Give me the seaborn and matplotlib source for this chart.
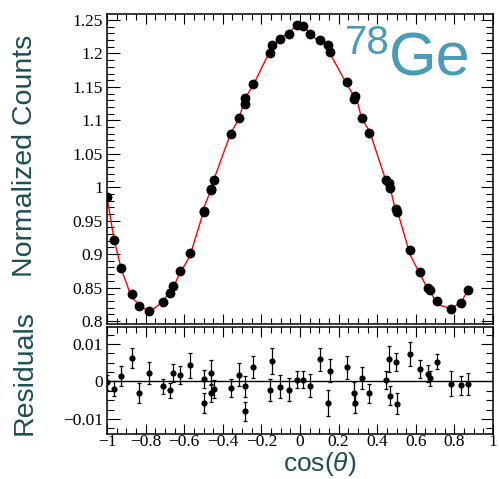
import numpy as np
import pandas as pd
import matplotlib
matplotlib.use("Agg")
import matplotlib.pyplot as plt
from matplotlib.ticker import MultipleLocator, FuncFormatter
import seaborn as sns

# Angular correlation of 78Ge: normalized counts vs cos(theta)
cos_theta = [-1.000, -0.964, -0.926, -0.872, -0.836, -0.782, -0.710, -0.675, -0.658,
             -0.621, -0.571, -0.499, -0.499, -0.462, -0.462, -0.445, -0.359, -0.317,
             -0.283, -0.283, -0.245, -0.157, -0.146, -0.105, -0.055, -0.017, 0.018,
             0.054, 0.106, 0.146, 0.158, 0.244, 0.282, 0.286, 0.319, 0.360, 0.445,
             0.462, 0.464, 0.498, 0.500, 0.571, 0.623, 0.661, 0.674, 0.711, 0.782,
             0.835, 0.873]

norm_counts = [0.985, 0.921, 0.879, 0.841, 0.823, 0.815, 0.828, 0.842, 0.852,
               0.874, 0.901, 0.965, 0.963, 0.998, 0.996, 1.0105, 1.079, 1.104,
               1.133, 1.125, 1.155, 1.2006, 1.212, 1.221, 1.2295, 1.243, 1.2405,
               1.2295, 1.220, 1.2126, 1.2016, 1.157, 1.132, 1.1357, 1.1038, 1.0808, 1.0105,
               1.007, 0.9995, 0.967, 0.963, 0.906, 0.873, 0.850, 0.846, 0.830, 0.818,
               0.827, 0.847]

residuals = [-0.0002, -0.0020, 0.0015, 0.0062, -0.0030, 0.0022, -0.0013, -0.0023, 0.0023,
             0.0018, 0.0043, 0.0007, -0.0057, 0.0023, -0.0032, -0.0021, -0.0017, 0.0018,
             -0.0013, -0.0080, 0.0038, -0.0023, 0.0055, -0.0014, -0.0022, 0.0005, 0.0005,
             -0.0011, 0.0059, -0.0057, 0.0029, 0.0038, -0.0032, -0.0057, 0.0009, -0.0032, 0.0005,
             0.0060, -0.0038, 0.0053, -0.0059, 0.0073, 0.0033, 0.0021, 0.0009, 0.0053, -0.0006,
             -0.0010, -0.0006]

residual_err = [0.0020, 0.0020, 0.0027, 0.0027, 0.0027, 0.0030, 0.0020, 0.0020, 0.0024,
                0.0024, 0.0034, 0.0024, 0.0027, 0.0033, 0.0024, 0.0024, 0.0024, 0.0030,
                0.0028, 0.0025, 0.0030, 0.0030, 0.0035, 0.0030, 0.0030, 0.0023, 0.0023,
                0.0030, 0.0030, 0.0035, 0.0030, 0.0031, 0.0030, 0.0026, 0.0030, 0.0026, 0.0024,
                0.0035, 0.0026, 0.0024, 0.0028, 0.0033, 0.0024, 0.0023, 0.0020, 0.0020, 0.0033,
                0.0025, 0.0029]

x_ticks = [-1, -0.8, -0.6, -0.4, -0.2, 0, 0.2, 0.4, 0.6, 0.8, 1]
count_ticks = [0.8, 0.85, 0.9, 0.95, 1, 1.05, 1.1, 1.15, 1.2, 1.25]
resid_ticks = [-0.01, 0, 0.01]

df = pd.DataFrame({"x": cos_theta, "y": norm_counts, "r": residuals, "e": residual_err})
df["fit"] = df["y"] - df["r"]
fit_df = df.sort_values(["x", "fit"]).reset_index(drop=True)

sns.set_style("ticks")
plt.rcParams["font.family"] = ["Liberation Serif", "DejaVu Serif"]
plt.rcParams["mathtext.fontset"] = "custom"
plt.rcParams["mathtext.it"] = "Liberation Sans:italic"
plt.rcParams["mathtext.rm"] = "Liberation Sans"

label_color = "#1d4d58"
title_color = "#4a9bb8"

W, H = 499, 479
fig = plt.figure(figsize=(W / 100, H / 100), dpi=100)

def frac(left, top, right, bottom):
    return [left / W, 1 - bottom / H, (right - left) / W, (bottom - top) / H]

ax_top = fig.add_axes(frac(107, 14, 493, 324))
ax_res = fig.add_axes(frac(107, 327, 493, 434))

# fitted curve and data points
sns.lineplot(data=fit_df, x="x", y="fit", ax=ax_top, color="red", lw=1.0,
             estimator=None, sort=False, zorder=2)
sns.scatterplot(data=df, x="x", y="y", ax=ax_top, color="black", s=50,
                edgecolor="black", linewidth=0, zorder=3)

# residuals with error bars
ax_res.axhline(0, color="black", lw=1.0, zorder=1)
ax_res.errorbar(df["x"], df["r"], yerr=df["e"], fmt="none", ecolor="black",
                elinewidth=0.9, capsize=1.7, capthick=0.9, zorder=2)
sns.scatterplot(data=df, x="x", y="r", ax=ax_res, color="black", s=20,
                edgecolor="black", linewidth=0, zorder=3)

fmt = FuncFormatter(lambda v, p: ("%g" % v).replace("-", "\u2212"))

for ax in (ax_top, ax_res):
    ax.set_xlim(-1, 1)
    ax.set_xticks(x_ticks)
    ax.xaxis.set_minor_locator(MultipleLocator(0.05))
    ax.xaxis.set_major_formatter(fmt)
    ax.yaxis.set_major_formatter(fmt)
    ax.set_xlabel("")
    ax.set_ylabel("")
    for s in ax.spines.values():
        s.set_visible(True)
        s.set_linewidth(1.1)
        s.set_color("black")
    ax.tick_params(which="both", direction="in", top=True, right=True,
                   labelsize=12.5, colors="black", width=0.8)
    ax.tick_params(axis="x", which="major", length=7, pad=0)
    ax.tick_params(axis="x", which="minor", length=4)
    ax.tick_params(axis="y", which="major", length=9, pad=3)
    ax.tick_params(axis="y", which="minor", length=5)

ax_top.set_ylim(0.7955, 1.259)
ax_top.set_yticks(count_ticks)
ax_top.yaxis.set_minor_locator(MultipleLocator(0.01))
ax_top.tick_params(axis="x", labelbottom=False)

ax_res.set_ylim(-0.014, 0.0145)
ax_res.set_yticks(resid_ticks)
ax_res.yaxis.set_minor_locator(MultipleLocator(0.0025))

# isotope tag
ax_top.text(0.617, 0.968, "78", transform=ax_top.transAxes, fontsize=29,
            color=title_color, family="Liberation Sans", va="top", ha="left")
ax_top.text(0.73, 0.803, "Ge", transform=ax_top.transAxes, fontsize=44,
            color=title_color, family="Liberation Sans", va="baseline", ha="left")

# axis titles
fig.text(25 / W, 1 - 156 / H, "Normalized Counts", rotation=90, ha="center",
         va="center", fontsize=20.5, color=label_color, family="Liberation Sans")
fig.text(25 / W, 1 - 373 / H, "Residuals", rotation=90, ha="center",
         va="center", fontsize=20.5, color=label_color, family="Liberation Sans")
fig.text(320 / W, 0.5 / H, r"cos($\theta$)", ha="center", va="bottom",
         fontsize=19, color=label_color, family="Liberation Sans")

fig.savefig("out.png", dpi=100)
